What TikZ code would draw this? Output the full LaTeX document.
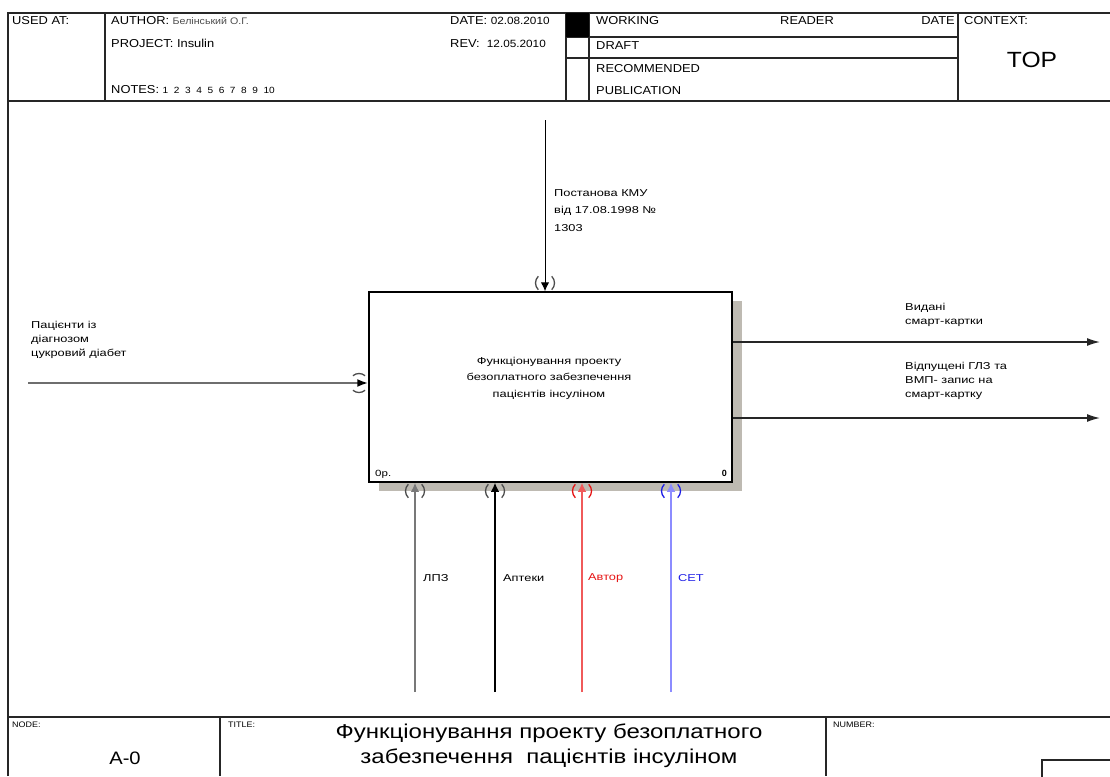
\documentclass[tikz,border=0pt]{standalone}
\usepackage{fontspec}
\setmainfont{Liberation Sans}
\newfontfamily\widefont[FakeStretch=1.28]{Liberation Sans}
\newfontfamily\hdrfont[FakeStretch=1.12]{Liberation Sans}
\newfontfamily\titlefont[FakeStretch=1.2]{Liberation Sans}
\usetikzlibrary{arrows.meta}
\definecolor{shadowc}{RGB}{190,186,178}
\definecolor{inpc}{RGB}{110,110,110}
\definecolor{lpzc}{RGB}{120,120,120}
\definecolor{redl}{RGB}{240,90,90}
\definecolor{redt}{RGB}{230,20,20}
\definecolor{bluel}{RGB}{140,140,255}
\definecolor{bluet}{RGB}{30,30,230}
\tikzset{
  frameline/.style={line width=1.6pt, black!85},
  thinline/.style={line width=1.1pt, black!85},
  hdr/.style={font=\hdrfont\fontsize{11.5}{13}\selectfont, anchor=base west, inner sep=0pt},
  hdrs/.style={font=\hdrfont\fontsize{8}{10}\selectfont, anchor=base west, inner sep=0pt},
  lbl/.style={font=\widefont\fontsize{10}{14}\selectfont, align=left, anchor=north west, inner sep=0pt},
  outarr/.style={-{Latex[length=13pt,width=8pt]}, line width=1.3pt},
  inarr/.style={-{Latex[length=11pt,width=8pt,color=black]}, line width=2pt},
  varr/.style={-{Latex[length=9pt,width=8.5pt]}, line width=1.3pt},
  tunnel/.style={line width=1.3pt},
  fnbox/.style={draw, line width=1.5pt, fill=white, minimum width=363pt, minimum height=190pt, inner sep=0pt},
}
\begin{document}
\begin{tikzpicture}[x=1pt,y=-1pt]
\useasboundingbox (0,0) rectangle (1110,776);
% ---------- frame ----------
\draw[frameline] (8,776) -- (8,13) -- (1112,13);
\draw[frameline] (8,101) -- (1112,101);
\draw[frameline] (8,717) -- (1112,717);
% header grid
\draw[thinline] (105,13) -- (105,101);
\draw[thinline] (566,13) -- (566,101);
\draw[thinline] (589,13) -- (589,101);
\draw[thinline] (958,13) -- (958,101);
\draw[thinline] (566,37) -- (958,37);
\draw[thinline] (566,58) -- (958,58);
\fill[black] (566,13) rectangle (589,37);
% footer grid
\draw[thinline] (220,717) -- (220,776);
\draw[thinline] (826,717) -- (826,776);
\draw[thinline] (1042,780) -- (1042,760) -- (1115,760);
% ---------- header texts ----------
\node[hdr] (usedat) at (12,25) {USED AT:};
\node[hdr] (author) at (111,25) {AUTHOR: {\color{black!70}\fontsize{9.5}{11}\selectfont Белінський О.Г.}};
\node[hdr] (project) at (111,48) {PROJECT: Insulin};
\node[hdr] (notes) at (111,93) {NOTES: {\fontsize{9}{11}\selectfont 1\ \ 2\ \ 3\ \ 4\ \ 5\ \ 6\ \ 7\ \ 8\ \ 9\ \ 10}};
\node[hdr] (date) at (450,25) {DATE: {\fontsize{10.5}{11}\selectfont 02.08.2010}};
\node[hdr] (rev) at (450,48) {REV: \ {\fontsize{10.5}{11}\selectfont 12.05.2010}};
\node[hdr] (working) at (596,25) {WORKING};
\node[hdr] (reader) at (780,25) {READER};
\node[hdr, anchor=base east] (rdate) at (955,25) {DATE};
\node[hdr] (draft) at (596,50) {DRAFT};
\node[hdr] (recom) at (596,73) {RECOMMENDED};
\node[hdr] (public) at (596,94) {PUBLICATION};
\node[hdr] (context) at (964,25) {CONTEXT:};
\node[font=\hdrfont\fontsize{22}{24}\selectfont, inner sep=0pt] (top) at (1032,60) {TOP};
% ---------- footer texts ----------
\node[hdrs] (nodel) at (12,727) {NODE:};
\node[hdrs] (titlel) at (228,727) {TITLE:};
\node[hdrs] (numberl) at (833,727) {NUMBER:};
\node[font=\hdrfont\fontsize{18}{20}\selectfont, inner sep=0pt] (nodeA) at (125,758) {A-0};
\node[font=\titlefont\fontsize{20}{25}\selectfont, align=center, inner sep=0pt] (titletext) at (549,746) {Функціонування проекту безоплатного\\забезпечення\ \ пацієнтів інсуліном};
% ---------- function box ----------
\fill[shadowc] (379,301) rectangle (742,491);
\node[fnbox] (A0) at (550.5,387) {};
\node[font=\widefont\fontsize{10}{16.5}\selectfont, align=center, inner sep=0pt] (A0text) at (549,378) {Функціонування проекту\\безоплатного забезпечення\\пацієнтів інсуліном};
\node[font=\widefont\fontsize{9}{10}\selectfont, anchor=base west, inner sep=0pt] (cost) at (375,476) {0р.};
\node[font=\fontsize{9}{10}\selectfont\bfseries, anchor=base east, inner sep=0pt] (num) at (727,476) {0};
% ---------- free ends ----------
\coordinate (inS) at (28,383);
\coordinate (ctlS) at (545,120);
\coordinate (out1E) at (1100,342);
\coordinate (out2E) at (1100,418);
\coordinate (m1S) at (415,692);
\coordinate (m2S) at (495,692);
\coordinate (m3S) at (582,692);
\coordinate (m4S) at (671,692);
% ---------- arrows ----------
\draw[inarr, inpc] (inS) -- (inS -| A0.west);
\draw[varr, black, line width=1pt] (ctlS) -- (ctlS |- A0.north);
\draw[outarr, black!85] (out1E -| A0.east) -- (out1E);
\draw[outarr, black!85] (out2E -| A0.east) -- (out2E);
\draw[varr, lpzc, line width=2pt] (m1S) -- (m1S |- A0.south);
\draw[varr, black, line width=1.4pt] (m2S) -- (m2S |- A0.south);
\draw[varr, redl, line width=1.4pt] (m3S) -- (m3S |- A0.south);
\draw[varr, bluel, line width=1.4pt] (m4S) -- (m4S |- A0.south);
% ---------- tunnel marks ----------
\draw[tunnel, black!70] (359,383) ++(50:9.5) arc[start angle=50, end angle=130, radius=9.5];
\draw[tunnel, black!70] (359,383) ++(230:9.5) arc[start angle=230, end angle=310, radius=9.5];
\draw[tunnel, black!70] (545,283) ++(-45:9.5) arc[start angle=-45, end angle=45, radius=9.5];
\draw[tunnel, black!70] (545,283) ++(135:9.5) arc[start angle=135, end angle=225, radius=9.5];
\foreach \xx/\cc in {415/black!70, 495/black!70, 582/redt, 671/bluet} {
  \draw[tunnel, \cc] (\xx,491) ++(-45:9.5) arc[start angle=-45, end angle=45, radius=9.5];
  \draw[tunnel, \cc] (\xx,491) ++(135:9.5) arc[start angle=135, end angle=225, radius=9.5];
}
% ---------- arrow labels ----------
\node[lbl] (inL) at (31,321) {Пацієнти із\\діагнозом\\цукровий діабет};
\node[lbl, font=\widefont\fontsize{10}{17.5}\selectfont] (ctlL) at (554,189) {Постанова КМУ\\від 17.08.1998 №\\1303};
\node[lbl] (out1L) at (905,303) {Видані\\смарт-картки};
\node[lbl] (out2L) at (905,362) {Відпущені ГЛЗ та\\ВМП- запис на\\смарт-картку};
\node[lbl, anchor=west] (m1L) at (423,578) {ЛПЗ};
\node[lbl, anchor=west] (m2L) at (503,578) {Аптеки};
\node[lbl, anchor=west, text=redt] (m3L) at (588,578) {Автор};
\node[lbl, anchor=west, text=bluet] (m4L) at (678,578) {СЕТ};
\end{tikzpicture}
\end{document}
